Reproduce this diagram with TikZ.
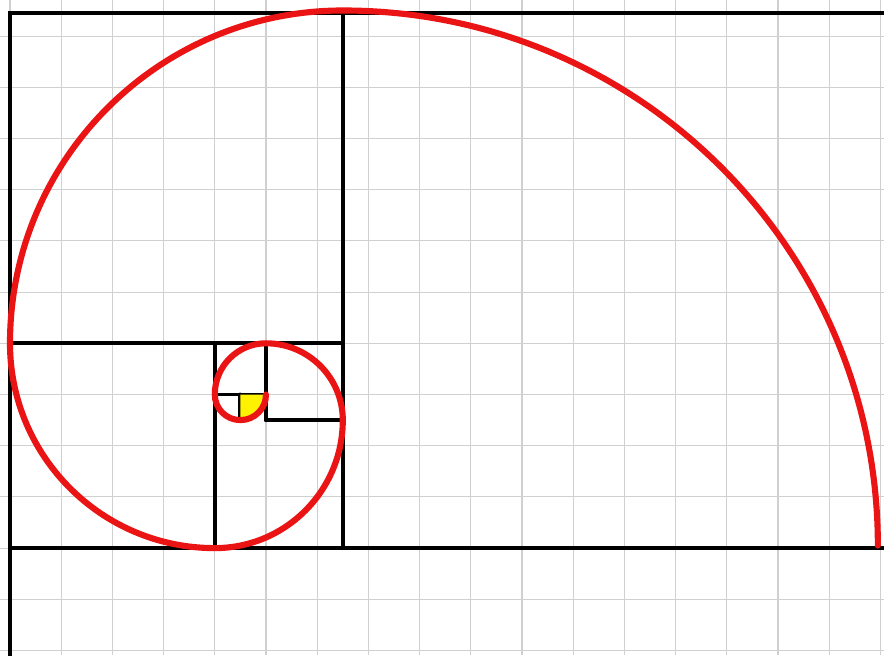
\documentclass[tikz,border=0pt]{standalone}
\usepackage{tikz}
\definecolor{paper}{RGB}{208,208,208}
\definecolor{spiralred}{RGB}{235,20,20}
\tikzset{
  gridline/.style={paper,line width=0.6pt},
  sqline/.style={black,line width=2.2pt,line cap=round},
  spiralline/.style={spiralred,line width=3.4pt,line cap=round}
}

\begin{document}
\begin{tikzpicture}[x=0.5cm,y=0.5cm]
        \useasboundingbox (-0.39,-4.18) rectangle (34.14,21.41);
        \fill[white] (-0.39,-4.18) rectangle (34.14,21.41);
        \draw[gridline] (-0.39,-4.18) grid (34.14,21.41);
        % the squares
        \draw[sqline] (0,-4.3) -- (0,20.9) -- (34.2,20.9);
        \draw[sqline] (0,0) -- (34.2,0);
        \draw[sqline] (13,0) -- (13,20.9);
        \draw[sqline] (0,8) -- (13,8);
        \draw[sqline] (8,0) -- (8,8);
        \draw[sqline] (10,5) -- (13,5);
        \draw[sqline] (10,5) -- (10,8);
        \draw[sqline] (8,6) -- (10,6);
        \draw[sqline] (9,5) -- (9,6);
        % smallest quarter
        \fill[yellow] (9,6) -- (9,5) arc[start angle=-90,end angle=0,radius=1] -- cycle;
        % the spiral
        \draw[spiralline] (10,6) arc[start angle=0,end angle=-180,radius=1]
          arc[start angle=180,end angle=90,radius=2]
          arc[start angle=90,end angle=0,radius=3]
          arc[start angle=0,end angle=-90,radius=5]
          arc[start angle=-90,end angle=-180,radius=8]
          arc[start angle=180,end angle=90,radius=13]
          arc[start angle=90,end angle=0,radius=20.9];
\end{tikzpicture}
\end{document}
